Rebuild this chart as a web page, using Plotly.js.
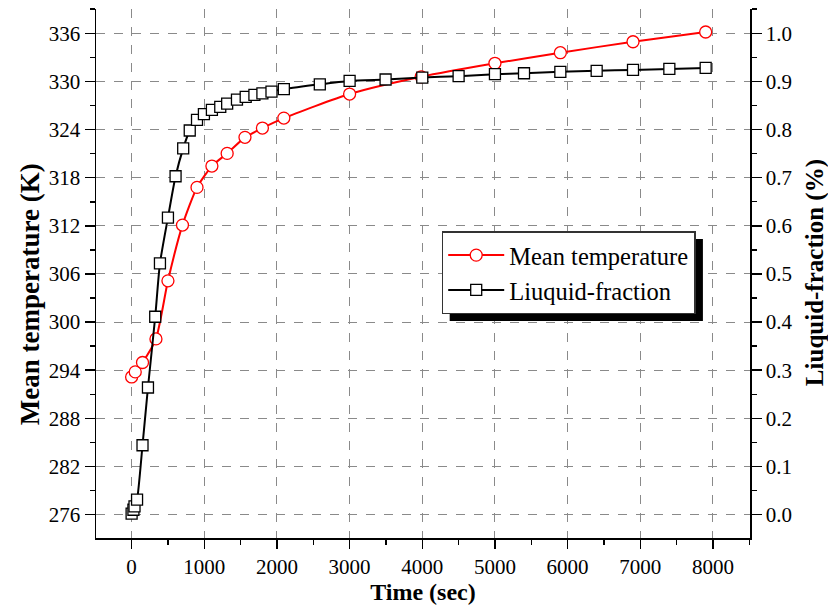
<!DOCTYPE html>
<html>
<head>
<meta charset="utf-8">
<script src="https://cdn.plot.ly/plotly-3.0.1.min.js"></script>
<style>html,body{margin:0;padding:0;background:#fff;}#chart{width:828px;height:606px;}</style>
</head>
<body>
<div id="chart"></div>
<script>
// Mean temperature series (K)
const timeTemp = [0, 50, 150, 335, 500, 700, 900, 1105, 1315, 1560, 1800, 2095, 3000, 3985, 5000, 5900, 6900, 7900];
const meanTemp = [293.16, 293.79, 294.96, 297.9, 305.14, 312.09, 316.79, 319.45, 321.03, 323.03, 324.19, 325.43, 328.43, 330.58, 332.26, 333.58, 334.95, 336.16];
// Liquid fraction series
const timeFrac = [0, 25, 40, 75, 150, 225, 325, 390, 500, 605, 710, 800, 900, 995, 1105, 1220, 1315, 1450, 1570, 1690, 1800, 1925, 2095, 2590, 3000, 3495, 4000, 4500, 5000, 5400, 5900, 6400, 6900, 7400, 7900];
const liqFrac = [0.002, 0.010, 0.017, 0.031, 0.144, 0.264, 0.411, 0.522, 0.617, 0.703, 0.761, 0.798, 0.820, 0.832, 0.841, 0.847, 0.854, 0.862, 0.868, 0.872, 0.875, 0.879, 0.884, 0.894, 0.901, 0.904, 0.908, 0.911, 0.915, 0.917, 0.920, 0.922, 0.924, 0.926, 0.928];
// Axis settings
const xRange = [-490, 8510];
const yRange = [273.08, 339.03];
const y2Range = [-0.0487, 1.0505];
const seriesNames = ["Mean temperature", "Liuquid-fraction"];
const axisTitles = {x: "Time (sec)", y: "Mean temperature (K)", y2: "Liuquid-fraction (%)"};

const FONT = '"Liberation Serif", "Times New Roman", serif';
function tf(size) { return {family: FONT, size: size, color: "#000"}; }

const traces = [
  {
    x: timeTemp, y: meanTemp, name: seriesNames[0], type: "scatter", mode: "lines+markers",
    line: {color: "#ff0000", width: 2, shape: "spline", smoothing: 0.6},
    marker: {symbol: "circle", size: 12, color: "#ffffff", line: {color: "#ff0000", width: 1.3}},
    xaxis: "x", yaxis: "y"
  },
  {
    x: timeFrac, y: liqFrac, name: seriesNames[1], type: "scatter", mode: "lines+markers",
    line: {color: "#000000", width: 2, shape: "spline", smoothing: 0.6},
    marker: {symbol: "square", size: 11, color: "#ffffff", line: {color: "#000000", width: 1.3}},
    xaxis: "x", yaxis: "y2"
  }
];

function minor(t0, d, dir) {
  return {tick0: t0, dtick: d, ticks: dir, ticklen: 5, tickwidth: 1.5, tickcolor: "#000", showgrid: false};
}

const layout = {
  width: 828, height: 606,
  margin: {l: 96, r: 78, t: 9, b: 68, pad: 0},
  paper_bgcolor: "#fff", plot_bgcolor: "#fff",
  font: tf(21),
  showlegend: true,
  legend: {
    x: 0.5286, y: 0.580, xanchor: "left", yanchor: "top",
    bgcolor: "#fff", bordercolor: "#333", borderwidth: 1.5,
    font: tf(24.5), tracegroupgap: 0, itemwidth: 56
  },
  xaxis: {
    range: xRange, tick0: 0, dtick: 1000, ticks: "outside", ticklen: 9, tickwidth: 1.5, tickcolor: "#000",
    showline: true, linecolor: "#000", linewidth: 1.5, zeroline: false,
    tickfont: tf(21),
    showgrid: true, gridcolor: "#8a8a8a", griddash: "dash", gridwidth: 1,
    minor: minor(0, 500, "outside"),
    title: {text: axisTitles.x, font: {family: FONT, size: 24, weight: "bold", color: "#000"}, standoff: 5}
  },
  xaxis2: {
    overlaying: "x", side: "top", anchor: "y", range: xRange, tick0: 0, dtick: 1000,
    showline: true, linecolor: "#000", linewidth: 1.5, zeroline: false, showgrid: false,
    ticks: "inside", ticklen: 9, tickwidth: 1.5, tickcolor: "#000", showticklabels: false,
    minor: minor(0, 500, "inside")
  },
  yaxis: {
    range: yRange, tick0: 276, dtick: 6, ticks: "outside", ticklen: 10, tickwidth: 1.5, tickcolor: "#000",
    showline: true, linecolor: "#000", linewidth: 1.5, zeroline: false,
    tickfont: tf(21),
    showgrid: true, gridcolor: "#8a8a8a", griddash: "dash", gridwidth: 1,
    minor: minor(276, 3, "outside")
  },
  yaxis2: {
    overlaying: "y", side: "right", anchor: "x",
    range: y2Range, tick0: 0, dtick: 0.1, tickformat: ".1f", ticks: "outside", ticklen: 10, tickwidth: 1.5, tickcolor: "#000",
    showline: true, linecolor: "#000", linewidth: 1.5, zeroline: false, showgrid: false,
    tickfont: tf(21),
    minor: minor(0, 0.05, "outside")
  },
  annotations: [
    {text: axisTitles.y, xref: "paper", yref: "paper", x: -0.1009, y: 0.461, textangle: -90,
     showarrow: false, xanchor: "center", yanchor: "middle",
     font: {family: FONT, size: 27, weight: "bold", color: "#000"}},
    {text: axisTitles.y2, xref: "paper", yref: "paper", x: 1.0994, y: 0.5007, textangle: -90,
     showarrow: false, xanchor: "center", yanchor: "middle",
     font: {family: FONT, size: 25, weight: "bold", color: "#000"}}
  ],
  shapes: [
    {type: "rect", xref: "paper", yref: "paper", x0: 0.5408, x1: 0.928, y0: 0.410, y1: 0.565,
     fillcolor: "#000", line: {width: 0}, layer: "above"}
  ]
};

Plotly.newPlot("chart", traces, layout, {displayModeBar: false, staticPlot: true});
</script>
</body>
</html>
